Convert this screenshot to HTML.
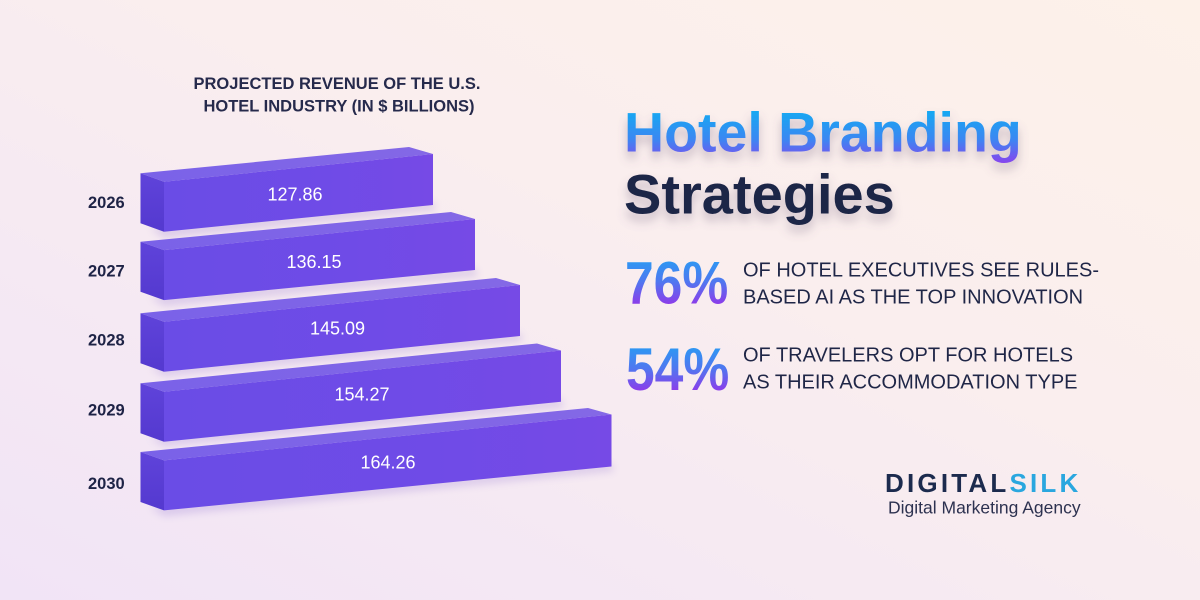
<!DOCTYPE html>
<html>
<head>
<meta charset="utf-8">
<style>
  html, body { margin:0; padding:0; }
  body { width:1200px; height:600px; overflow:hidden;
    background: linear-gradient(205deg, #fdf1e9 0%, #faeeee 40%, #f5e9f3 70%, #f1e4f6 100%); }
  svg { display:block; }
</style>
</head>
<body>
<svg width="1200" height="600" viewBox="0 0 1200 600" xmlns="http://www.w3.org/2000/svg">
  <defs>
    <linearGradient id="front" x1="0" y1="0" x2="1" y2="0">
      <stop offset="0" stop-color="#6a4ce6"/>
      <stop offset="0.6" stop-color="#6f4be7"/>
      <stop offset="1" stop-color="#764ae6"/>
    </linearGradient>
    <linearGradient id="cap" x1="0" y1="0" x2="0" y2="1">
      <stop offset="0" stop-color="#5f43da"/>
      <stop offset="1" stop-color="#5439cf"/>
    </linearGradient>
    <linearGradient id="top" x1="0" y1="0" x2="1" y2="0">
      <stop offset="0" stop-color="#7a62e8"/>
      <stop offset="1" stop-color="#8468e6"/>
    </linearGradient>
    <linearGradient id="gHead" gradientUnits="userSpaceOnUse" x1="0" y1="108" x2="0" y2="164">
      <stop offset="0" stop-color="#12acf2"/>
      <stop offset="0.55" stop-color="#3a88f2"/>
      <stop offset="1" stop-color="#8a42ee"/>
    </linearGradient>
    <linearGradient id="g76" gradientUnits="userSpaceOnUse" x1="0" y1="-44" x2="0" y2="0">
      <stop offset="0" stop-color="#2b9af3"/>
      <stop offset="0.5" stop-color="#4f78f0"/>
      <stop offset="1" stop-color="#8a3eea"/>
    </linearGradient>
    <filter id="tshadow" x="-10%" y="-30%" width="120%" height="180%">
      <feDropShadow dx="0" dy="7" stdDeviation="5" flood-color="#6a5a78" flood-opacity="0.35"/>
    </filter>
    <filter id="bshadow" x="-20%" y="-50%" width="140%" height="200%">
      <feGaussianBlur stdDeviation="4"/>
    </filter>
  </defs>

  <!-- Title -->
  <g font-family="'Liberation Sans', sans-serif" font-weight="bold" font-size="16.5" fill="#262a4c" text-anchor="middle">
    <text x="337" y="88.8">PROJECTED REVENUE OF THE U.S.</text>
    <text x="339" y="111.7">HOTEL INDUSTRY (IN $ BILLIONS)</text>
  </g>

  <!-- bar shadows -->
  <g fill="#7a5ac8" opacity="0.22" filter="url(#bshadow)">
    <polygon points="150,228 433,202 436,210 164,238"/>
    <polygon points="150,297 475,268 478,276 164,306"/>
    <polygon points="150,368 520,333 523,341 164,376"/>
    <polygon points="150,438 561,399 564,407 164,446"/>
    <polygon points="150,507 611,463 614,471 164,516"/>
  </g>

  <!-- Bar 2026 -->
  <g>
    <polygon points="140.5,173.3 409,147 433,154 164,181.7" fill="url(#top)"/>
    <polygon points="164,181.7 433,154 433,205 164,231.7" fill="url(#front)"/>
    <polygon points="140.5,173.3 164,181.7 164,231.7 140.5,223.3" fill="url(#cap)"/>
  </g>
  <!-- Bar 2027 -->
  <g>
    <polygon points="140.5,241.7 451,212 475,219 164,250.1" fill="url(#top)"/>
    <polygon points="164,250.1 475,219 475,270 164,300.1" fill="url(#front)"/>
    <polygon points="140.5,241.7 164,250.1 164,300.1 140.5,291.7" fill="url(#cap)"/>
  </g>
  <!-- Bar 2028 -->
  <g>
    <polygon points="140.5,313.3 496,278 520,285 164,321.7" fill="url(#top)"/>
    <polygon points="164,321.7 520,285 520,336 164,371.7" fill="url(#front)"/>
    <polygon points="140.5,313.3 164,321.7 164,371.7 140.5,363.3" fill="url(#cap)"/>
  </g>
  <!-- Bar 2029 -->
  <g>
    <polygon points="140.5,383.3 537,343.5 561,350.5 164,391.7" fill="url(#top)"/>
    <polygon points="164,391.7 561,350.5 561,401.7 164,441.7" fill="url(#front)"/>
    <polygon points="140.5,383.3 164,391.7 164,441.7 140.5,433.3" fill="url(#cap)"/>
  </g>
  <!-- Bar 2030 -->
  <g>
    <polygon points="140.5,452 588,408 611.5,414.5 164,460.4" fill="url(#top)"/>
    <polygon points="164,460.4 611.5,414.5 611.5,466.5 164,510.4" fill="url(#front)"/>
    <polygon points="140.5,452 164,460.4 164,510.4 140.5,502" fill="url(#cap)"/>
  </g>

  <!-- bar values -->
  <g font-family="'Liberation Sans', sans-serif" font-size="18" fill="#ffffff" text-anchor="middle">
    <text x="295" y="200.5">127.86</text>
    <text x="314" y="267.8">136.15</text>
    <text x="337.5" y="334.5">145.09</text>
    <text x="362" y="400.5">154.27</text>
    <text x="388" y="468.5">164.26</text>
  </g>

  <!-- year labels -->
  <g font-family="'Liberation Sans', sans-serif" font-weight="bold" font-size="16.5" fill="#1e2346">
    <text x="88" y="208">2026</text>
    <text x="88" y="276.5">2027</text>
    <text x="88" y="345.5">2028</text>
    <text x="88" y="415.5">2029</text>
    <text x="88" y="489">2030</text>
  </g>

  <!-- Headline -->
  <g font-family="'Liberation Sans', sans-serif" font-weight="bold" filter="url(#tshadow)">
    <text x="624" y="151.7" font-size="55.5" fill="url(#gHead)">Hotel Branding</text>
    <text x="624" y="213.3" font-size="56" fill="#1b2547">Strategies</text>
  </g>

  <!-- Stats -->
  <g font-family="'Liberation Sans', sans-serif" font-weight="bold" font-size="60">
    <text transform="translate(625,303.3) scale(0.86,1)" x="0" y="0" fill="url(#g76)">76%</text>
    <text transform="translate(626,390) scale(0.86,1)" x="0" y="0" fill="url(#g76)">54%</text>
  </g>
  <g font-family="'Liberation Sans', sans-serif" font-size="20" fill="#1f2647">
    <text x="743" y="276.7">OF HOTEL EXECUTIVES SEE RULES-</text>
    <text x="743" y="303.3">BASED AI AS THE TOP INNOVATION</text>
    <text x="743" y="361.7">OF TRAVELERS OPT FOR HOTELS</text>
    <text x="743" y="388.3">AS THEIR ACCOMMODATION TYPE</text>
  </g>

  <!-- Logo -->
  <text x="885" y="492" font-family="'Liberation Sans', sans-serif" font-weight="bold" font-size="26" letter-spacing="3.2"><tspan fill="#1c2b4e">DIGITAL</tspan><tspan fill="#2aa7df">SILK</tspan></text>
  <text x="888" y="513.3" font-family="'Liberation Sans', sans-serif" font-size="17.5" fill="#2d3250">Digital Marketing Agency</text>
</svg>
</body>
</html>
